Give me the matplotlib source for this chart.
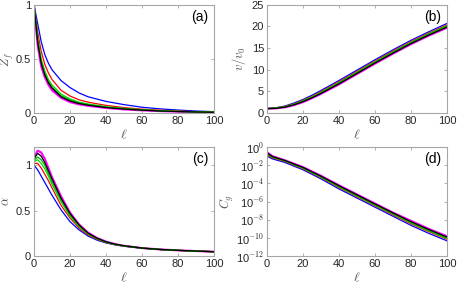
import matplotlib
matplotlib.use("Agg")
import matplotlib.pyplot as plt
import numpy as np

plt.rcParams['font.family'] = ['Liberation Sans', 'DejaVu Sans']
plt.rcParams['mathtext.fontset'] = 'cm'

colors = ['#0000ff', '#ff0000', '#00e000', '#00b000', '#000000', '#ff00ff']
widths = [0.9, 0.9, 0.9, 0.9, 0.9, 1.5]

# ---- (a) Z_f ----
ell_a = [0, 2, 4, 6, 8, 10, 15, 20, 25, 30, 40, 50, 60, 70, 80, 90, 100]
zf_blue = [1, 0.83, 0.66, 0.54, 0.46, 0.40, 0.30, 0.235, 0.185, 0.15, 0.107, 0.077, 0.053, 0.038, 0.027, 0.018, 0.012]
zf_red = [1, 0.75, 0.57, 0.45, 0.37, 0.31, 0.21, 0.157, 0.122, 0.10, 0.07, 0.05, 0.035, 0.025, 0.018, 0.012, 0.008]
zf_g1 = [1, 0.70, 0.50, 0.39, 0.31, 0.26, 0.175, 0.13, 0.10, 0.083, 0.058, 0.042, 0.03, 0.021, 0.015, 0.010, 0.007]
zf_g2 = [1, 0.68, 0.48, 0.37, 0.29, 0.24, 0.16, 0.12, 0.093, 0.077, 0.054, 0.039, 0.028, 0.020, 0.014, 0.010, 0.007]
zf_k = [1, 0.66, 0.46, 0.35, 0.28, 0.23, 0.15, 0.11, 0.087, 0.072, 0.050, 0.036, 0.026, 0.018, 0.013, 0.009, 0.006]
zf_m = [1, 0.63, 0.43, 0.33, 0.26, 0.21, 0.14, 0.10, 0.080, 0.066, 0.046, 0.033, 0.024, 0.017, 0.012, 0.008, 0.005]

# ---- (b) v/v0 ----
ell_b = [0, 5, 10, 15, 20, 25, 30, 40, 50, 60, 70, 80, 90, 100]
v_blue = [1, 1.2, 1.6, 2.3, 3.1, 4.1, 5.2, 7.5, 9.9, 12.3, 14.6, 16.8, 18.8, 20.7]
v_red = [1, 1.15, 1.5, 2.12, 2.9, 3.85, 4.92, 7.18, 9.58, 11.98, 14.28, 16.48, 18.48, 20.35]
v_g1 = [1, 1.12, 1.43, 2.02, 2.77, 3.72, 4.76, 7.0, 9.4, 11.8, 14.1, 16.3, 18.3, 20.15]
v_g2 = [1, 1.1, 1.39, 1.95, 2.68, 3.61, 4.64, 6.87, 9.27, 11.67, 13.97, 16.17, 18.17, 20.0]
v_k = [1, 1.07, 1.35, 1.88, 2.59, 3.5, 4.52, 6.73, 9.13, 11.53, 13.83, 16.03, 18.03, 19.85]
v_m = [1, 1.05, 1.3, 1.8, 2.5, 3.4, 4.4, 6.6, 9.0, 11.4, 13.7, 15.9, 17.9, 19.7]

# ---- (c) alpha ----
ell_c = [0, 2, 4, 6, 8, 10, 15, 20, 25, 30, 35, 40, 45, 50, 60, 70, 80, 90, 100]
al_blue = [1.0, 0.95, 0.88, 0.81, 0.74, 0.67, 0.51, 0.38, 0.29, 0.222, 0.177, 0.146, 0.125, 0.11, 0.088, 0.074, 0.064, 0.056, 0.05]
al_red = [1.02, 1.02, 0.97, 0.90, 0.83, 0.75, 0.56, 0.42, 0.31, 0.235, 0.185, 0.151, 0.128, 0.112, 0.089, 0.074, 0.064, 0.056, 0.05]
al_g1 = [1.04, 1.06, 1.02, 0.96, 0.88, 0.79, 0.60, 0.44, 0.325, 0.245, 0.191, 0.154, 0.130, 0.113, 0.089, 0.075, 0.065, 0.056, 0.05]
al_g2 = [1.05, 1.09, 1.06, 1.00, 0.91, 0.82, 0.62, 0.455, 0.335, 0.25, 0.195, 0.157, 0.132, 0.114, 0.09, 0.075, 0.065, 0.057, 0.05]
al_k = [1.07, 1.13, 1.10, 1.03, 0.94, 0.85, 0.64, 0.47, 0.345, 0.255, 0.198, 0.159, 0.133, 0.115, 0.09, 0.075, 0.065, 0.057, 0.05]
al_m = [1.08, 1.16, 1.14, 1.07, 0.97, 0.87, 0.66, 0.48, 0.35, 0.26, 0.201, 0.161, 0.134, 0.115, 0.09, 0.075, 0.065, 0.057, 0.05]

# ---- (d) C_g ----
ell_d = [0, 3, 10, 20, 30, 40, 50, 60, 70, 80, 90, 100]
cg_blue = [1.0e-1, 5.0e-2, 2.0e-2, 3.2e-3, 3.2e-4, 2.5e-5, 2.5e-6, 2.5e-7, 2.5e-8, 2.5e-9, 3.2e-10, 5.0e-11]
cg_red = [1.4e-1, 6.5e-2, 2.6e-2, 4.2e-3, 4.4e-4, 3.6e-5, 3.6e-6, 3.6e-7, 3.6e-8, 3.8e-9, 5.0e-10, 7.5e-11]
cg_g1 = [1.7e-1, 7.5e-2, 2.9e-2, 4.8e-3, 5.0e-4, 4.2e-5, 4.2e-6, 4.2e-7, 4.4e-8, 4.6e-9, 6.0e-10, 9.0e-11]
cg_g2 = [2.0e-1, 8.0e-2, 3.1e-2, 5.2e-3, 5.5e-4, 4.8e-5, 4.8e-6, 4.8e-7, 5.0e-8, 5.4e-9, 7.0e-10, 1.1e-10]
cg_k = [2.3e-1, 9.0e-2, 3.3e-2, 5.8e-3, 6.3e-4, 5.6e-5, 5.6e-6, 5.6e-7, 5.8e-8, 6.4e-9, 8.5e-10, 1.3e-10]
cg_m = [2.8e-1, 1.0e-1, 3.5e-2, 6.3e-3, 7.0e-4, 6.3e-5, 6.3e-6, 6.3e-7, 6.3e-8, 7.9e-9, 1.0e-9, 1.6e-10]

fig = plt.figure(figsize=(4.57, 2.86), dpi=100)
axa = fig.add_axes([0.0744, 0.605, 0.394, 0.378])
axb = fig.add_axes([0.584, 0.605, 0.394, 0.378])
axc = fig.add_axes([0.0744, 0.104, 0.394, 0.382])
axd = fig.add_axes([0.584, 0.104, 0.394, 0.382])

def style(ax, label):
    for s in ax.spines.values():
        s.set_color('#a6a6a6')
        s.set_linewidth(0.8)
    ax.tick_params(direction='in', length=2.5, width=0.6, color='#a6a6a6',
                   labelsize=8, labelcolor='#262626', top=True, right=True, pad=2)
    ax.tick_params(which='minor', left=False, right=False, top=False, bottom=False)
    ax.set_xlim(0, 100)
    ax.set_xticks([0, 20, 40, 60, 80, 100])
    ax.set_xlabel(r'$\ell$', fontsize=10, color='#555555', labelpad=1)
    ax.text(0.967, 0.955, label, transform=ax.transAxes, ha='right', va='top',
            fontsize=10, color='#000000')

series_a = [zf_blue, zf_red, zf_g1, zf_g2, zf_k, zf_m]
series_b = [v_blue, v_red, v_g1, v_g2, v_k, v_m]
series_c = [al_blue, al_red, al_g1, al_g2, al_k, al_m]
series_d = [cg_blue, cg_red, cg_g1, cg_g2, cg_k, cg_m]

order = [5, 0, 1, 2, 3, 4]
for i in order:
    axa.plot(ell_a, series_a[i], color=colors[i], lw=widths[i])
    axb.plot(ell_b, series_b[i], color=colors[i], lw=widths[i])
    axc.plot(ell_c, series_c[i], color=colors[i], lw=widths[i])
    axd.plot(ell_d, series_d[i], color=colors[i], lw=widths[i])

style(axa, '(a)')
axa.set_ylim(0, 1)
axa.set_yticks([0, 0.5, 1])
axa.set_yticklabels(['0', '0.5', '1'])
axa.set_ylabel(r'$Z_f$', fontsize=9, color='#555555')
axa.yaxis.set_label_coords(-0.1, 0.5)

style(axb, '(b)')
axb.set_ylim(0, 25)
axb.set_yticks([0, 5, 10, 15, 20, 25])
axb.set_ylabel(r'$v/v_0$', fontsize=9, color='#555555')
axb.yaxis.set_label_coords(-0.105, 0.5)

style(axc, '(c)')
axc.set_ylim(0, 1.2)
axc.set_yticks([0, 0.5, 1])
axc.set_yticklabels(['0', '0.5', '1'])
axc.set_ylabel(r'$\alpha$', fontsize=9, color='#555555')
axc.yaxis.set_label_coords(-0.12, 0.5)

axd.set_yscale('log')
style(axd, '(d)')
axd.set_ylim(1e-12, 1)
axd.set_yticks([1e-12, 1e-10, 1e-8, 1e-6, 1e-4, 1e-2, 1])
axd.set_yticklabels([r'10$^{-12}$', r'10$^{-10}$', r'10$^{-8}$', r'10$^{-6}$',
                     r'10$^{-4}$', r'10$^{-2}$', r'10$^{0}$'])
axd.tick_params(axis='y', labelsize=8)
axd.set_ylabel(r'$C_g$', fontsize=9, color='#555555')
axd.yaxis.set_label_coords(-0.17, 0.5)

fig.savefig('out.png', dpi=100)
